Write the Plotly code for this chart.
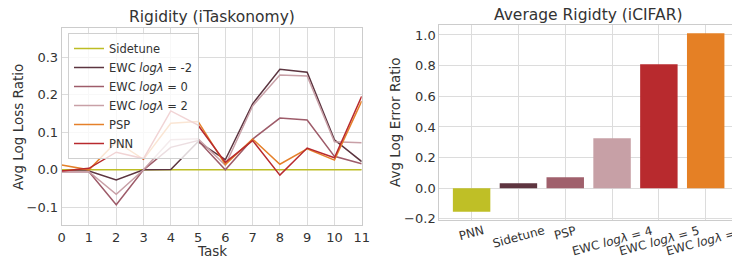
import plotly.graph_objects as go

tasks = list(range(12))
sidetune = [0.0] * 12
ewc_m2 = [-0.003, -0.003, -0.027, 0.0, 0.001, 0.075, 0.027, 0.176, 0.268, 0.260, 0.080, 0.022]
ewc_0 = [-0.005, -0.005, -0.093, 0.0, 0.060, 0.078, 0.000, 0.082, 0.138, 0.133, 0.036, 0.016]
ewc_2 = [-0.005, -0.005, -0.065, 0.0, 0.080, 0.083, 0.012, 0.170, 0.253, 0.250, 0.075, 0.072]
psp = [0.013, 0.000, 0.075, 0.028, 0.124, 0.129, 0.014, 0.082, 0.015, 0.056, 0.026, 0.183]
pnn = [-0.003, 0.004, 0.047, 0.030, 0.157, 0.119, 0.020, 0.078, -0.014, 0.058, 0.032, 0.196]

bar_cats = ["PNN", "Sidetune", "PSP", "EWC <i>logλ</i> = 4", "EWC <i>logλ</i> = 5", "EWC <i>logλ</i> = 6"]
bar_vals = [-0.153, 0.033, 0.072, 0.326, 0.809, 1.011]

line_names = ["Sidetune", "EWC <i>logλ</i> = -2", "EWC <i>logλ</i> = 0", "EWC <i>logλ</i> = 2", "PSP", "PNN"]
line_data = [sidetune, ewc_m2, ewc_0, ewc_2, psp, pnn]
line_colors = ["#bdbd24", "#5c3540", "#9e5c6a", "#c8a0a7", "#e5802a", "#b82a2e"]
bar_colors = ["#bfbf26", "#5e3540", "#a0606c", "#c7a0a6", "#b82a2e", "#e58025"]

TXT = "#333333"
GRID = "#dcdcdc"
FONT = "DejaVu Sans"
TICK = 13
AXT = 13.5

# page body has a default 8px margin: figure is placed at (8, 8) in the window
OFF = 8
W, H = 740 - OFF, 264 - OFF


def fx(X):
    return (X - OFF) / W


def fy(Y):
    return 1 - (Y - OFF) / H


fig = go.Figure()
for name, ys, c in zip(line_names, line_data, line_colors):
    fig.add_trace(go.Scatter(x=tasks, y=ys, mode="lines", name=name,
                             line=dict(color=c, width=1.5), xaxis="x", yaxis="y"))

fig.add_trace(go.Bar(x=list(range(len(bar_cats))), y=bar_vals, marker=dict(color=bar_colors, line=dict(width=0)),
                     width=0.8, showlegend=False, xaxis="x2", yaxis="y2"))

axis_common = dict(showgrid=True, gridcolor=GRID, gridwidth=1, showline=True, linecolor="#cccccc",
                   linewidth=1, mirror=True, zeroline=False, ticks="", automargin=False,
                   tickfont=dict(family=FONT, size=TICK, color=TXT))

fig.update_layout(
    width=W, height=H, margin=dict(l=0, r=0, t=0, b=0),
    paper_bgcolor="white", plot_bgcolor="white",
    font=dict(family=FONT, color=TXT, size=TICK),
    xaxis=dict(domain=[fx(61.7), fx(361.7)], range=[0, 11], tickmode="array", tickvals=tasks,
               anchor="y", **axis_common),
    yaxis=dict(domain=[fy(225), fy(28)], range=[-0.147, 0.378], tickvals=[-0.1, 0.0, 0.1, 0.2, 0.3],
               tickformat=".1f", anchor="x", **axis_common),
    xaxis2=dict(domain=[fx(439.3), fx(738)], range=[-0.69, 5.69], tickvals=list(range(6)),
                showticklabels=False, anchor="y2", **axis_common),
    yaxis2=dict(domain=[fy(220), fy(25)], range=[-0.207, 1.065], tickvals=[-0.2, 0, 0.2, 0.4, 0.6, 0.8, 1.0],
                tickformat=".1f", anchor="x2", **axis_common),
    legend=dict(x=fx(68), y=fy(33), xanchor="left", yanchor="top",
                bgcolor="rgba(255,255,255,0.8)", bordercolor="#d0d0d0", borderwidth=1,
                font=dict(family=FONT, size=11.5, color=TXT), tracegroupgap=0, itemwidth=30),
    showlegend=True,
)


def txt(text, X, Y, size, angle=0):
    return dict(text=text, x=fx(X), y=fy(Y), xref="paper", yref="paper", showarrow=False,
                textangle=angle, xanchor="center", yanchor="middle",
                font=dict(family=FONT, size=size, color=TXT))


annotations = [
    txt("Rigidity (iTaskonomy)", 211.7, 17, 15.5),
    txt("Average Rigidty (iCIFAR)", 588, 15, 15.5),
    txt("Task", 211.7, 251, AXT),
    txt("Avg Log Loss Ratio", 18, 127, AXT, -90),
    txt("Avg Log Error Ratio", 395, 122, AXT, -90),
]
for i, cat in enumerate(bar_cats):
    annotations.append(dict(text=cat, x=i, xref="x2", y=fy(221), yref="paper", showarrow=False,
                            textangle=-15, xanchor="center", yanchor="top",
                            font=dict(family=FONT, size=12, color=TXT)))
fig.update_layout(annotations=annotations)

fig.write_html("out.html")
